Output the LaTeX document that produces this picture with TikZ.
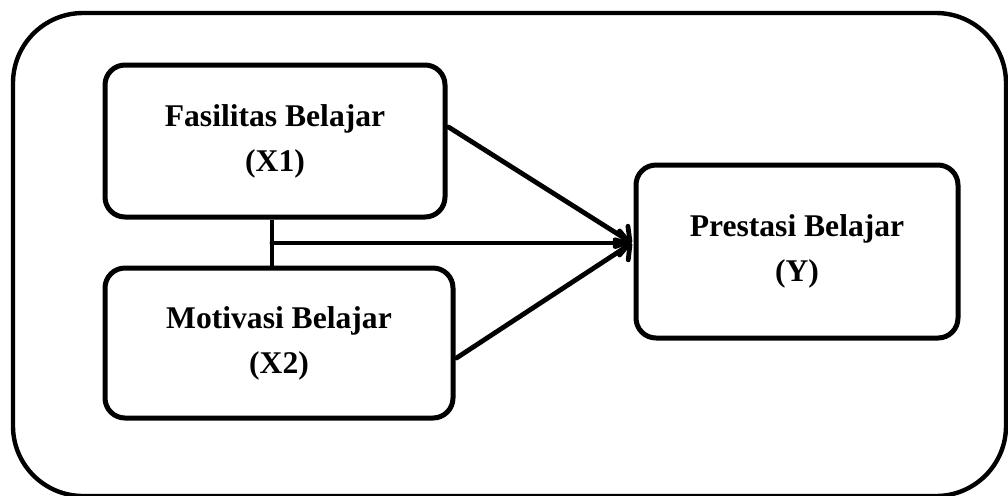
\documentclass[tikz,border=0pt]{standalone}
\usepackage{fontspec}
\setmainfont{Liberation Serif}
\usepackage{tikz}
\usetikzlibrary{arrows.meta, calc}

\tikzset{
  varbox/.style={draw=black, line width=2.5pt, rounded corners=10pt, align=center,
    font=\fontsize{15.8}{22.5}\selectfont\bfseries, inner sep=0pt},
  link/.style={line width=2.4pt, line cap=round, -{Straight Barb[length=5pt, width=12pt, round]}}
}

\begin{document}
\begin{tikzpicture}[x=0.5pt, y=-0.5pt]
  \useasboundingbox (0,0) rectangle (1008,495);
  \begin{scope}
    \clip (0,0) rectangle (1008,495);
    \draw[line width=2.2pt, rounded corners=35pt] (13,13) rectangle (1006,496);
  \end{scope}

  \node[varbox, minimum width=170pt, minimum height=76pt] (fasilitas) at (275,141) {Fasilitas Belajar\\(X1)};
  \node[varbox, minimum width=174pt, minimum height=75pt] (motivasi) at (279,343) {Motivasi Belajar\\(X2)};
  \node[varbox, minimum width=161pt, minimum height=86.5pt] (prestasi) at (797,251.5) {Prestasi Belajar\\(Y)};

  \coordinate (join) at (272,243);
  \coordinate (tip) at (632,243);

  \draw[line width=2.4pt] (fasilitas.south -| join) -- (motivasi.north -| join);
  \draw[link] (join) -- (tip);
  \draw[link] ($(fasilitas.east)+(1,-14)$) -- (tip);
  \draw[link] ($(motivasi.east)+(1,15)$) -- (tip);
\end{tikzpicture}
\end{document}
